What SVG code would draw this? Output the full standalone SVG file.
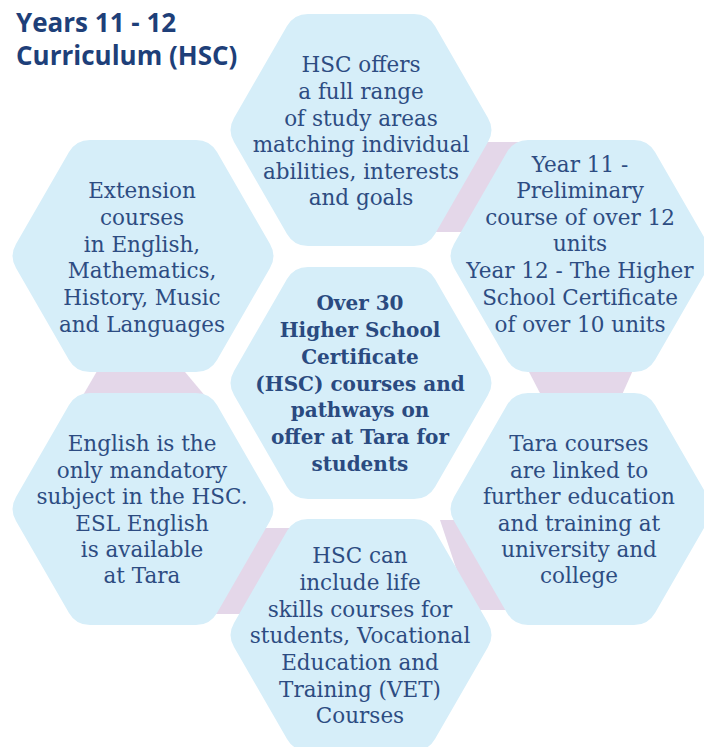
<svg xmlns="http://www.w3.org/2000/svg" width="704" height="747" viewBox="0 0 704 747">
<style>
.hex{fill:#d6eef9}
.band{fill:#e4d7e9}
.t{font-family:"DejaVu Serif","Liberation Serif",serif;font-size:21.5px;fill:#2d4c82;text-anchor:middle}
.b{font-weight:bold;font-size:20px;fill:#2a4a80}
.title{font-family:"Open Sans","Noto Sans","Liberation Sans",sans-serif;font-size:26px;font-weight:bold;fill:#1e3f79}
</style>
<defs>
<path id="hx" d="M127,-12.12 Q134,0 127,12.12 L74,103.88 Q67,116 53,116 L-53,116 Q-67,116 -74,103.88 L-127,12.12 Q-134,0 -127,-12.12 L-74,-103.88 Q-67,-116 -53,-116 L53,-116 Q67,-116 74,-103.88 Z"/>
</defs>
<rect width="704" height="747" fill="#ffffff"/>
<g id="connectors">
<polygon class="band" points="482,142 519,142 467,232 430,232"/>
<polygon class="band" points="527,368 634,368 621,397 542,397"/>
<polygon class="band" points="440,520 477,520 514,610 470,610"/>
<polygon class="band" points="262,528 292,528 246,614 213,614"/>
<polygon class="band" points="100,366 180,366 206,397 82,397"/>
</g>
<g id="title">
<text class="title" x="16" y="32">Years 11 - 12</text>
<text class="title" x="16" y="65">Curriculum (HSC)</text>
</g>
<g id="node-top">
<use href="#hx" class="hex" transform="translate(361,130)"/>
<text class="t"><tspan x="361" y="72">HSC offers</tspan><tspan x="361" y="99">a full range</tspan><tspan x="361" y="125.5">of study areas</tspan><tspan x="361" y="152">matching individual</tspan><tspan x="361" y="178.5">abilities, interests</tspan><tspan x="361" y="205">and goals</tspan></text>
</g>
<g id="node-upper-left">
<use href="#hx" class="hex" transform="translate(143,256)"/>
<text class="t"><tspan x="142" y="198">Extension</tspan><tspan x="142" y="225">courses</tspan><tspan x="142" y="251.5">in English,</tspan><tspan x="142" y="278">Mathematics,</tspan><tspan x="142" y="305">History, Music</tspan><tspan x="142" y="331.5">and Languages</tspan></text>
</g>
<g id="node-upper-right">
<use href="#hx" class="hex" transform="translate(581,256)"/>
<text class="t"><tspan x="580" y="172">Year 11 -</tspan><tspan x="580" y="198">Preliminary</tspan><tspan x="580" y="225">course of over 12</tspan><tspan x="580" y="251">units</tspan><tspan x="580" y="278">Year 12 - The Higher</tspan><tspan x="580" y="305">School Certificate</tspan><tspan x="580" y="331.5">of over 10 units</tspan></text>
</g>
<g id="node-center">
<use href="#hx" class="hex" transform="translate(361,383)"/>
<text class="t b"><tspan x="360" y="310">Over 30</tspan><tspan x="360" y="337">Higher School</tspan><tspan x="360" y="364">Certificate</tspan><tspan x="360" y="391">(HSC) courses and</tspan><tspan x="360" y="417">pathways on</tspan><tspan x="360" y="444">offer at Tara for</tspan><tspan x="360" y="471">students</tspan></text>
</g>
<g id="node-lower-left">
<use href="#hx" class="hex" transform="translate(143,509)"/>
<text class="t"><tspan x="142" y="451">English is the</tspan><tspan x="142" y="477.5">only mandatory</tspan><tspan x="142" y="504">subject in the HSC.</tspan><tspan x="142" y="530.5">ESL English</tspan><tspan x="142" y="557">is available</tspan><tspan x="142" y="583">at Tara</tspan></text>
</g>
<g id="node-lower-right">
<use href="#hx" class="hex" transform="translate(581,509)"/>
<text class="t"><tspan x="579" y="451">Tara courses</tspan><tspan x="579" y="478">are linked to</tspan><tspan x="579" y="504">further education</tspan><tspan x="579" y="531">and training at</tspan><tspan x="579" y="557">university and</tspan><tspan x="579" y="583">college</tspan></text>
</g>
<g id="node-bottom">
<use href="#hx" class="hex" transform="translate(361,635)"/>
<text class="t"><tspan x="360" y="563">HSC can</tspan><tspan x="360" y="590">include life</tspan><tspan x="360" y="617">skills courses for</tspan><tspan x="360" y="643">students, Vocational</tspan><tspan x="360" y="670">Education and</tspan><tspan x="360" y="697">Training (VET)</tspan><tspan x="360" y="723">Courses</tspan></text>
</g>
</svg>
